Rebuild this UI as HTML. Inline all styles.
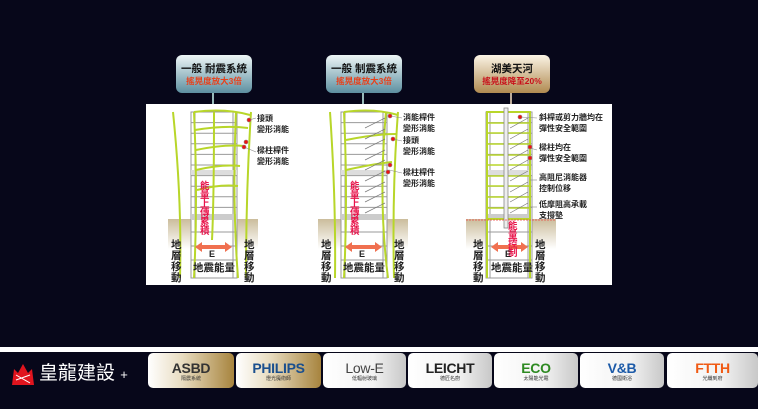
<!DOCTYPE html>
<html><head><meta charset="utf-8"><style>
html,body{margin:0;padding:0;background:#07071a;}
body{width:758px;height:409px;position:relative;overflow:hidden;font-family:"Liberation Sans","Noto Sans CJK TC",sans-serif;}
.panel{position:absolute;left:146px;top:104px;width:466px;height:181px;background:#fff;}
.co{position:absolute;top:55px;width:76px;height:38px;border-radius:6px;text-align:center;}
.co .a{font-size:10.5px;font-weight:bold;color:#111;margin-top:8px;line-height:13px;}
.co .b{font-size:8.5px;font-weight:bold;color:#e8401a;line-height:11px;}
.co i{position:absolute;left:36px;top:38px;width:2px;height:11px;}
.lb{position:absolute;font-size:8px;line-height:10.5px;color:#222;font-weight:bold;}
.vt{position:absolute;font-size:10.5px;line-height:11px;width:12px;font-weight:bold;color:#222;}
.red{position:absolute;font-size:9.5px;line-height:9px;width:10px;color:#e8134a;font-weight:bold;}
.foot{position:absolute;left:0;top:347px;width:758px;height:5px;background:#fff;}
.tile{position:absolute;top:353px;height:35px;border-radius:5px;text-align:center;background:linear-gradient(90deg,#fff,#f2f2f2 60%,#c8c8c8);}
.tile .t{font-size:14px;font-weight:bold;line-height:16px;margin-top:7px;letter-spacing:-0.3px;}
.tile .s{font-size:5px;color:#333;line-height:7px;}
</style></head><body>
<div class="panel"></div>
<svg style="position:absolute;left:0;top:0" width="758" height="409">
<defs>
<linearGradient id="soil" x1="0" y1="0" x2="0" y2="1"><stop offset="0" stop-color="#cbbd9c"/><stop offset="1" stop-color="#fff"/></linearGradient>
<g id="bld">
<rect x="0" y="0" width="46" height="166" fill="#fff" stroke="#999" stroke-width="1"/>
<g stroke="#999" stroke-width="1">
<line x1="0" y1="10.6" x2="46" y2="10.6"/><line x1="0" y1="21.2" x2="46" y2="21.2"/><line x1="0" y1="31.8" x2="46" y2="31.8"/><line x1="0" y1="42.4" x2="46" y2="42.4"/><line x1="0" y1="53" x2="46" y2="53"/><line x1="0" y1="63.6" x2="46" y2="63.6"/><line x1="0" y1="74.2" x2="46" y2="74.2"/><line x1="0" y1="84.8" x2="46" y2="84.8"/><line x1="0" y1="95.4" x2="46" y2="95.4"/><line x1="0" y1="106" x2="46" y2="106"/><line x1="0" y1="120" x2="46" y2="120"/><line x1="0" y1="134" x2="46" y2="134"/><line x1="0" y1="148" x2="46" y2="148"/>
<line x1="4" y1="0" x2="4" y2="166"/><line x1="42" y1="0" x2="42" y2="166"/>
</g>
<rect x="0" y="58" width="46" height="5" fill="#ddd"/><rect x="0" y="102" width="46" height="6" fill="#ccc"/>
</g>
</defs>
<rect x="168" y="219" width="90" height="30" fill="url(#soil)"/>
<rect x="318" y="219" width="90" height="30" fill="url(#soil)"/>
<rect x="466" y="219" width="90" height="30" fill="url(#soil)"/>
<use href="#bld" x="191" y="112"/>
<use href="#bld" x="341" y="112"/>
<use href="#bld" x="486" y="112"/>
<g fill="none" stroke="#b8d62a" stroke-width="2">
<path d="M173 112 Q182 200 180 278"/><path d="M194 112 Q198 200 194 278"/><path d="M214 112 Q214 200 212 240"/><path d="M236 112 Q232 200 238 278"/><path d="M251 112 Q246 190 246 278"/>
<path d="M194 112 Q225 108 250 115"/><path d="M195 130 Q225 125 248 128"/><path d="M196 150 Q225 144 244 146"/><path d="M196 170 Q222 164 240 166"/><path d="M197 190 Q220 184 238 186"/>
</g>
<g fill="none" stroke="#b8d62a" stroke-width="2">
<path d="M330 112 Q336 200 335 278"/><path d="M344 112 Q348 200 344 278"/><path d="M386 112 Q378 200 388 278"/><path d="M398 112 Q392 190 394 278"/>
<path d="M344 112 Q375 108 398 115"/><path d="M346 140 Q375 134 396 134"/><path d="M346 170 Q372 164 392 162"/>
</g>
<g stroke="#777" stroke-width="0.7"><path d="M365 128 L385 118 M365 139 L385 129 M365 149 L385 139 M365 160 L385 150 M365 170 L385 160 M365 181 L385 171 M365 192 L385 182 M365 202 L385 192 M365 213 L385 203"/></g>
<g fill="none" stroke="#b8d62a" stroke-width="2"><rect x="487" y="112" width="43" height="107"/><line x1="487" y1="219" x2="487" y2="278"/><line x1="530" y1="219" x2="530" y2="278"/>
<path d="M487 123H530M487 133H530M487 144H530M487 155H530M487 165H530M487 176H530M487 186H530M487 197H530M487 208H530" stroke-width="1.5"/></g>
<rect x="504" y="108" width="4" height="120" fill="#eee" stroke="#888" stroke-width="0.8"/>
<g stroke="#777" stroke-width="0.7"><path d="M510 128 L528 118 M510 139 L528 129 M510 149 L528 139 M510 160 L528 150 M510 170 L528 160 M510 181 L528 171 M510 192 L528 182 M510 202 L528 192 M510 213 L528 203"/></g>
<line x1="466" y1="220" x2="556" y2="220" stroke="#e44" stroke-width="0.8" stroke-dasharray="2 1"/>
<g fill="#f07050"><path d="M195 247 L202 242 L202 245 L225 245 L225 242 L232 247 L225 252 L225 249 L202 249 L202 252Z"/>
<path d="M345 247 L352 242 L352 245 L375 245 L375 242 L382 247 L375 252 L375 249 L352 249 L352 252Z"/>
<path d="M491 247 L498 242 L498 245 L521 245 L521 242 L528 247 L521 252 L521 249 L498 249 L498 252Z"/></g>
<g stroke="#888" stroke-width="0.6" fill="#e11">
<line x1="249" y1="120" x2="256" y2="118"/><circle cx="249" cy="120" r="2"/>
<line x1="244" y1="147" x2="256" y2="152"/><circle cx="244" cy="147" r="2"/><circle cx="246" cy="142" r="2"/>
<line x1="390" y1="116" x2="402" y2="118"/><circle cx="390" cy="116" r="2"/>
<line x1="393" y1="139" x2="402" y2="141"/><circle cx="393" cy="139" r="2"/>
<line x1="389" y1="170" x2="402" y2="173"/><circle cx="390" cy="165" r="2"/><circle cx="388" cy="172" r="2"/>
<line x1="520" y1="117" x2="537" y2="118"/><circle cx="520" cy="117" r="2"/>
<line x1="530" y1="148" x2="537" y2="150"/><circle cx="530" cy="147" r="2"/><circle cx="530" cy="158" r="2"/>
<line x1="530" y1="180" x2="537" y2="180"/><line x1="530" y1="207" x2="537" y2="207"/>
</g>
</svg>
<div class="co" style="left:176px;background:linear-gradient(#eef6f6,#5d8fa0)"><div class="a">一般 耐震系統</div><div class="b">搖晃度放大3倍</div><i style="background:#9bb"></i></div>
<div class="co" style="left:326px;background:linear-gradient(#eef6f6,#5d8fa0)"><div class="a">一般 制震系統</div><div class="b">搖晃度放大3倍</div><i style="background:#9bb"></i></div>
<div class="co" style="left:474px;background:linear-gradient(#fbf4e6,#b08a50)"><div class="a">湖美天河</div><div class="b" style="color:#c8101a">搖晃度降至20%</div><i style="background:#ba9"></i></div>
<div class="lb" style="left:257px;top:114px">接頭<br>變形消能</div>
<div class="lb" style="left:257px;top:146px">樑柱桿件<br>變形消能</div>
<div class="lb" style="left:403px;top:113px">消能桿件<br>變形消能</div>
<div class="lb" style="left:403px;top:136px">接頭<br>變形消能</div>
<div class="lb" style="left:403px;top:168px">樑柱桿件<br>變形消能</div>
<div class="lb" style="left:539px;top:113px">斜桿或剪力牆均在<br>彈性安全範圍</div>
<div class="lb" style="left:539px;top:143px">樑柱均在<br>彈性安全範圍</div>
<div class="lb" style="left:539px;top:173px">高阻尼消能器<br>控制位移</div>
<div class="lb" style="left:539px;top:200px">低摩阻高承載<br>支撐墊</div>
<div class="red" style="left:200px;top:182px">能量上傳累積</div>
<div class="red" style="left:350px;top:182px">能量上傳累積</div>
<div class="red" style="left:508px;top:222px">能量控制</div>
<div class="vt" style="left:171px;top:240px">地層移動</div><div class="vt" style="left:244px;top:240px">地層移動</div>
<div class="vt" style="left:321px;top:240px">地層移動</div><div class="vt" style="left:394px;top:240px">地層移動</div>
<div class="vt" style="left:473px;top:240px">地層移動</div><div class="vt" style="left:535px;top:240px">地層移動</div>
<div class="lb" style="left:209px;top:249px;font-size:9px">E</div><div class="lb" style="left:359px;top:249px;font-size:9px">E</div><div class="lb" style="left:505px;top:249px;font-size:9px">E</div>
<div class="lb" style="left:193px;top:263px;font-size:10.5px">地震能量</div>
<div class="lb" style="left:343px;top:263px;font-size:10.5px">地震能量</div>
<div class="lb" style="left:491px;top:263px;font-size:10.5px">地震能量</div>
<div class="foot"></div>
<svg style="position:absolute;left:11px;top:361px" width="24" height="24"><path d="M1 24 L3 8 L7 12 L12 3 L17 12 L21 8 L23 24Z" fill="#e0141e"/><path d="M5 14 L19 22 M5 19 L19 14" stroke="#fff" stroke-width="1"/></svg>
<div style="position:absolute;left:39px;top:362px;color:#fff;font-size:19px;line-height:24px;">皇龍建設 <span style="font-size:13px">+</span></div>
<div class="tile" style="left:148px;width:86px;background:linear-gradient(90deg,#fff,#e8dcc0 40%,#a7843e)"><div class="t" style="color:#333">ASBD</div><div class="s">隔震系統</div></div>
<div class="tile" style="left:236px;width:85px;background:linear-gradient(90deg,#fff,#e8dcc0 40%,#a7843e)"><div class="t" style="color:#1a4f8e">PHILIPS</div><div class="s">燈光魔術師</div></div>
<div class="tile" style="left:323px;width:83px"><div class="t" style="color:#444;font-weight:normal">Low-E</div><div class="s">低輻射玻璃</div></div>
<div class="tile" style="left:408px;width:84px"><div class="t" style="color:#222">LEICHT</div><div class="s">德匠名廚</div></div>
<div class="tile" style="left:494px;width:84px"><div class="t" style="color:#2e8a22">ECO</div><div class="s">太陽能光電</div></div>
<div class="tile" style="left:580px;width:84px"><div class="t" style="color:#1c5aa8">V&amp;B</div><div class="s">德國衛浴</div></div>
<div class="tile" style="left:667px;width:91px"><div class="t" style="color:#f05a14">FTTH</div><div class="s">光纖到府</div></div>
</body></html>
